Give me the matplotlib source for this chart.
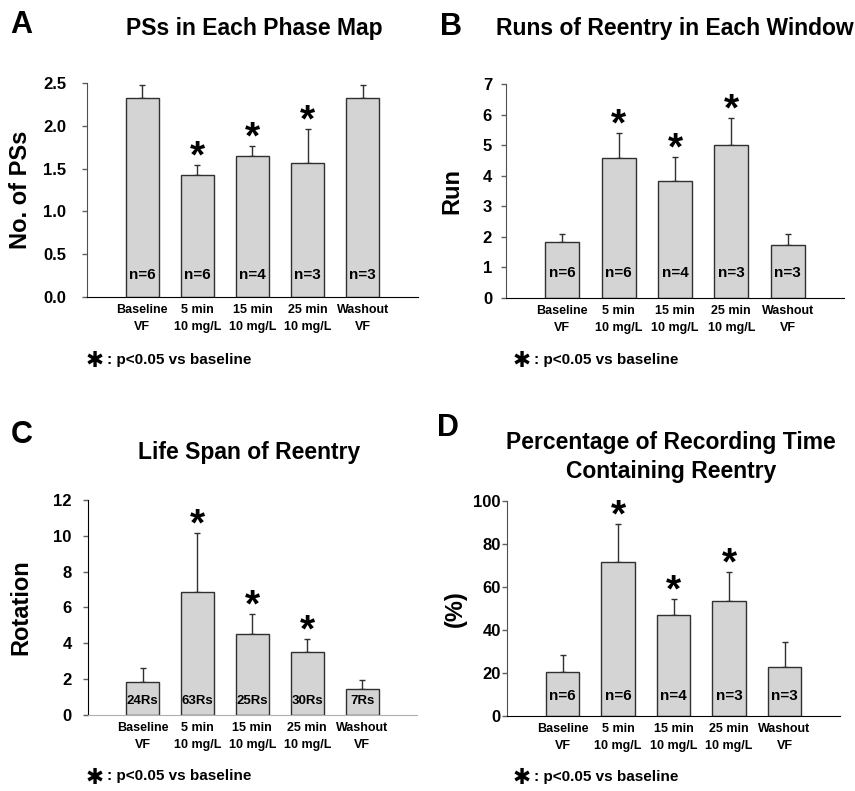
import matplotlib
matplotlib.use("Agg")
import matplotlib.pyplot as plt
import numpy as np

plt.rcParams['font.family'] = ['Liberation Sans', 'DejaVu Sans']
plt.rcParams['font.weight'] = 'bold'

categories = ["Baseline\nVF", "5 min\n10 mg/L", "15 min\n10 mg/L", "25 min\n10 mg/L", "Washout\nVF"]
significant = [False, True, True, True, False]

ps_mean = [2.32, 1.43, 1.65, 1.57, 2.32]
ps_err = [0.16, 0.11, 0.11, 0.39, 0.16]

runs_mean = [1.82, 4.57, 3.83, 5.00, 1.73]
runs_err = [0.26, 0.82, 0.77, 0.88, 0.36]

life_mean = [1.85, 6.88, 4.50, 3.51, 1.42]
life_err = [0.75, 3.31, 1.12, 0.71, 0.51]

pct_mean = [20.5, 71.6, 46.9, 53.4, 22.8]
pct_err = [7.6, 17.5, 7.6, 13.5, 11.7]

n_labels = ["n=6", "n=6", "n=4", "n=3", "n=3"]
rs_labels = ["24Rs", "63Rs", "25Rs", "30Rs", "7Rs"]

fig = plt.figure(figsize=(8.55, 7.91), dpi=100)


def panel(rect, mean, err, inner, yticks, fmt, ylabel, ypad, label_x, inner_off,
          inner_size=11, base_color='black'):
    ax = fig.add_axes(rect)
    x = np.arange(len(mean))
    ax.bar(x, mean, width=0.6, color='#d4d4d4', edgecolor='#303030', linewidth=1.0, zorder=2)
    ax.errorbar(x, mean, yerr=[np.zeros(len(err)), err], fmt='none', ecolor='#303030',
                elinewidth=1.0, capsize=2.5, capthick=1.0, zorder=1)
    for i in range(len(mean)):
        ax.annotate(inner[i], (x[i], 0), xytext=(0, inner_off), textcoords='offset points',
                    ha='center', va='center', fontsize=inner_size, fontweight='bold', zorder=3)
        if significant[i]:
            ax.annotate('*', (x[i], mean[i] + err[i]), xytext=(0, -7.5), textcoords='offset points',
                        ha='center', va='bottom', fontsize=28, fontweight='bold')
    ax.set_xlim(-1, 5)
    ax.set_ylim(yticks[0], yticks[-1])
    ax.set_yticks(yticks)
    ax.set_yticklabels([fmt % v for v in yticks], fontsize=12, fontweight='bold')
    ax.set_xticks(x)
    ax.set_xticklabels(categories, fontsize=9, fontweight='bold', linespacing=1.55)
    ax.tick_params(axis='x', length=0, pad=5)
    ax.tick_params(axis='y', length=3.5, width=1, color='#606060', pad=ypad)
    ax.set_ylabel(ylabel, fontsize=17, fontweight='bold')
    ax.yaxis.set_label_coords(label_x, 0.5)
    for s in ['top', 'right']:
        ax.spines[s].set_visible(False)
    ax.spines['left'].set_color('#505050')
    ax.spines['bottom'].set_color(base_color)
    return ax


axA = panel([0.1018, 0.6245, 0.387, 0.2706], ps_mean, ps_err, n_labels,
            [0, 0.5, 1.0, 1.5, 2.0, 2.5], '%.1f', 'No. of PSs', 11.5, -0.166, 16)

axB = panel([0.5918, 0.6233, 0.3953, 0.2706], runs_mean, runs_err, n_labels,
            list(range(0, 8)), '%d', 'Run', 6.5, -0.127, 18)

axC = panel([0.1026, 0.0965, 0.3851, 0.2710], life_mean, life_err, rs_labels,
            list(range(0, 13, 2)), '%d', 'Rotation', 8, -0.167, 9.5,
            inner_size=9.5, base_color='#b0b0b0')
axC.spines['left'].set_color('black')

axD = panel([0.593, 0.0952, 0.3895, 0.2714], pct_mean, pct_err, n_labels,
            list(range(0, 101, 20)), '%d', '(%)', 1, -0.12, 14.5)

fig.text(254 / 855, 1 - 28 / 791, 'PSs in Each Phase Map', ha='center', va='center',
         fontsize=16.5, fontweight='bold')
fig.text(675 / 855, 1 - 28 / 791, 'Runs of Reentry in Each Window', ha='center', va='center',
         fontsize=16.5, fontweight='bold')
fig.text(249 / 855, 1 - 453 / 791, 'Life Span of Reentry', ha='center', va='center',
         fontsize=16.5, fontweight='bold')
fig.text(671 / 855, 1 - 457 / 791, 'Percentage of Recording Time\nContaining Reentry', ha='center',
         va='center', fontsize=16.5, fontweight='bold', linespacing=1.3)

for lab, px, py in [('A', 21, 25), ('B', 451, 27), ('C', 22, 435), ('D', 448, 428)]:
    fig.text(px / 855, 1 - py / 791, lab, ha='center', va='center', fontsize=22,
             fontweight='bold')

# footnote: heavy asterisk sits low in its box, so it stays inside the figure at the bottom
for px, py in [(95, 360), (522, 360), (95, 776), (522, 777)]:
    fig.text(px / 855, 1 - (py + 7.5) / 791, '\u2731', ha='center', va='baseline',
             fontsize=15.5, family='DejaVu Sans')
    fig.text((px + 12) / 855, 1 - py / 791, ': p<0.05 vs baseline', ha='left', va='center',
             fontsize=11, fontweight='bold')

fig.savefig('out.png', dpi=100)
